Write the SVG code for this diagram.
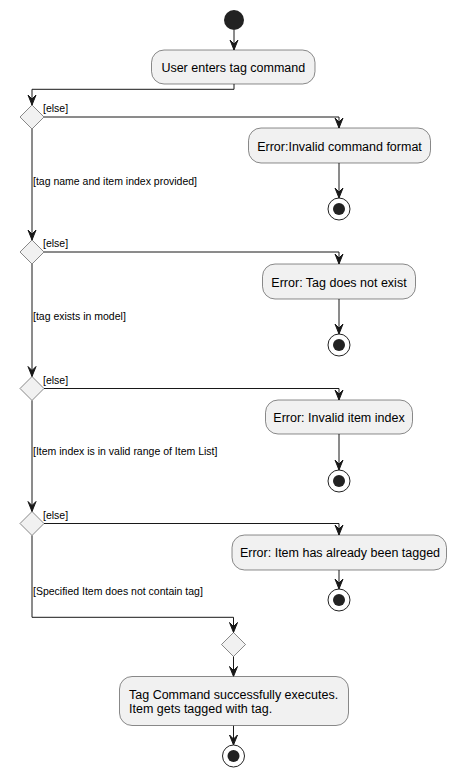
<svg xmlns="http://www.w3.org/2000/svg" width="457" height="777" viewBox="0 0 457 777">
<defs>
<style>
.act{fill:#F1F1F1;stroke:#181818;stroke-width:0.5}
.dia{fill:#F1F1F1;stroke:#181818;stroke-width:0.5}
.ln{fill:none;stroke:#181818;stroke-width:1}
.ah{fill:#181818;stroke:#181818;stroke-width:1}
.t{font-family:"Liberation Sans",Arial,sans-serif;font-size:12.5px;fill:#000000}
.g{font-family:"Liberation Sans",Arial,sans-serif;font-size:10.5px;fill:#000000}
.endo{fill:none;stroke:#222222;stroke-width:1}
.endi{fill:#222222;stroke:none}
</style>
</defs>
<rect width="457" height="777" fill="#FFFFFF"/>

<g id="connectors">
<path class="ln" d="M234,30 V50"/>
<polygon class="ah" points="230,40 234,50 238,40 234,44"/>
<path class="ln" d="M234,84 V89.3 H32 V105"/>
<polygon class="ah" points="28,95 32,105 36,95 32,99"/>
<path class="ln" d="M44,117 H339 V128"/>
<polygon class="ah" points="335,118 339,128 343,118 339,122"/>
<path class="ln" d="M339,163 V198"/>
<polygon class="ah" points="335,188 339,198 343,188 339,192"/>
<path class="ln" d="M32,129 V240"/>
<polygon class="ah" points="28,230 32,240 36,230 32,234"/>
<path class="ln" d="M44,252 H339 V264"/>
<polygon class="ah" points="335,254 339,264 343,254 339,258"/>
<path class="ln" d="M339,299 V334"/>
<polygon class="ah" points="335,324 339,334 343,324 339,328"/>
<path class="ln" d="M32,264 V376.5"/>
<polygon class="ah" points="28,366.5 32,376.5 36,366.5 32,370.5"/>
<path class="ln" d="M44,388.5 H339 V400"/>
<polygon class="ah" points="335,390 339,400 343,390 339,394"/>
<path class="ln" d="M339,434 V470"/>
<polygon class="ah" points="335,460 339,470 343,460 339,464"/>
<path class="ln" d="M32,400.5 V511.5"/>
<polygon class="ah" points="28,501.5 32,511.5 36,501.5 32,505.5"/>
<path class="ln" d="M44,523.5 H339 V535"/>
<polygon class="ah" points="335,525 339,535 343,525 339,529"/>
<path class="ln" d="M339,570 V589"/>
<polygon class="ah" points="335,579 339,589 343,579 339,583"/>
<path class="ln" d="M32,535.5 V617.3 H233.5 V632.5"/>
<polygon class="ah" points="229.5,622.5 233.5,632.5 237.5,622.5 233.5,626.5"/>
<path class="ln" d="M233.5,656.5 V676.5"/>
<polygon class="ah" points="229.5,666.5 233.5,676.5 237.5,666.5 233.5,670.5"/>
<path class="ln" d="M233.5,725.5 V745"/>
<polygon class="ah" points="229.5,735 233.5,745 237.5,735 233.5,739"/>
<text class="g" x="43" y="112">[else]</text>
<text class="g" x="33" y="185">[tag name and item index provided]</text>
<text class="g" x="43" y="247">[else]</text>
<text class="g" x="33" y="319.5">[tag exists in model]</text>
<text class="g" x="43" y="383.5">[else]</text>
<text class="g" x="33" y="455">[Item index is in valid range of Item List]</text>
<text class="g" x="43" y="518.5">[else]</text>
<text class="g" x="33" y="595">[Specified Item does not contain tag]</text>
</g>

<g id="start"><circle cx="234" cy="20" r="10" fill="#222222"/></g>

<g id="userEnters">
<rect class="act" x="151.5" y="50" width="163.5" height="34" rx="12.5"/>
<text class="t" x="233.3" y="71.5" text-anchor="middle">User enters tag command</text>
</g>

<g id="d1"><polygon class="dia" points="32,105 44,117 32,129 20,117"/></g>
<g id="errFormat">
<rect class="act" x="248.5" y="128" width="182" height="35" rx="12.5"/>
<text class="t" x="339.5" y="150.5" text-anchor="middle">Error:Invalid command format</text>
</g>
<g id="end1"><circle class="endo" cx="339" cy="209" r="11"/><circle class="endi" cx="339" cy="209" r="6"/></g>

<g id="d2"><polygon class="dia" points="32,240 44,252 32,264 20,252"/></g>
<g id="errTag">
<rect class="act" x="262.5" y="264" width="153" height="35" rx="12.5"/>
<text class="t" x="339" y="286.5" text-anchor="middle">Error: Tag does not exist</text>
</g>
<g id="end2"><circle class="endo" cx="339" cy="345" r="11"/><circle class="endi" cx="339" cy="345" r="6"/></g>

<g id="d3"><polygon class="dia" points="32,376.5 44,388.5 32,400.5 20,388.5"/></g>
<g id="errIndex">
<rect class="act" x="265.5" y="400" width="147" height="34" rx="12.5"/>
<text class="t" x="339" y="422" text-anchor="middle">Error: Invalid item index</text>
</g>
<g id="end3"><circle class="endo" cx="339" cy="481" r="11"/><circle class="endi" cx="339" cy="481" r="6"/></g>

<g id="d4"><polygon class="dia" points="32,511.5 44,523.5 32,535.5 20,523.5"/></g>
<g id="errTagged">
<rect class="act" x="232" y="535" width="214.5" height="35" rx="12.5"/>
<text class="t" x="340" y="557.3" text-anchor="middle">Error: Item has already been tagged</text>
</g>
<g id="end4"><circle class="endo" cx="339" cy="600" r="11"/><circle class="endi" cx="339" cy="600" r="6"/></g>

<g id="merge"><polygon class="dia" points="233.5,632.5 245.5,644.5 233.5,656.5 221.5,644.5"/></g>
<g id="success">
<rect class="act" x="119.5" y="676.5" width="229" height="49" rx="12.5"/>
<text class="t" x="129" y="699">Tag Command successfully executes.</text>
<text class="t" x="129" y="712.5">Item gets tagged with tag.</text>
</g>
<g id="end5"><circle class="endo" cx="233.5" cy="756" r="11"/><circle class="endi" cx="233.5" cy="756" r="6"/></g>
</svg>
